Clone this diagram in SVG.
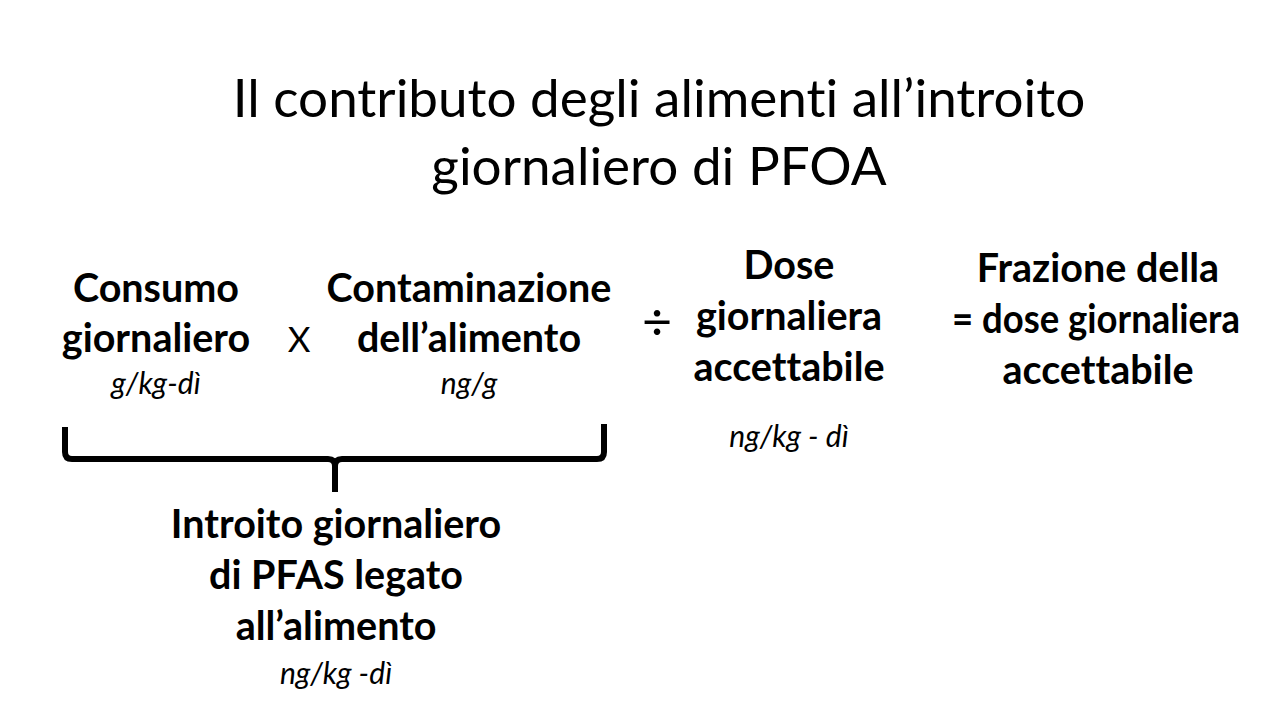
<svg xmlns="http://www.w3.org/2000/svg" width="1280" height="720" viewBox="0 0 1280 720">
<style>
text{font-family:Lato,"Open Sans","Liberation Sans",sans-serif;fill:#000;text-anchor:middle;font-variant-ligatures:none}
.t{font-size:53px;font-weight:400}
.b{font-size:39.5px;font-weight:700}
.i{font-size:30px;font-style:italic}
.op{font-size:35px}
.dv{font-size:52px}
</style>
<rect width="1280" height="720" fill="#fff"/>
<g id="title">
<text class="t" x="659" y="117">Il contributo degli alimenti all’introito</text>
<text class="t" x="659" y="185">giornaliero di PFOA</text>
</g>
<g id="consumo">
<text class="b" x="156" y="302">Consumo</text>
<text class="b" x="156" y="352">giornaliero</text>
<text class="i" x="156" y="394">g/kg-dì</text>
</g>
<g id="times"><text class="op" x="299" y="352">X</text></g>
<g id="contaminazione">
<text class="b" x="469" y="302">Contaminazione</text>
<text class="b" x="469" y="352">dell’alimento</text>
<text class="i" x="469" y="394">ng/g</text>
</g>
<g id="divide"><text class="dv" x="657" y="340">÷</text></g>
<g id="dose">
<text class="b" x="789" y="279">Dose</text>
<text class="b" x="789" y="330">giornaliera</text>
<text class="b" x="789" y="381">accettabile</text>
<text class="i" x="789" y="447">ng/kg - dì</text>
</g>
<g id="frazione">
<text class="b" x="1098" y="282">Frazione della</text>
<text class="b" x="1096" y="333" textLength="288" lengthAdjust="spacingAndGlyphs">= dose giornaliera</text>
<text class="b" x="1098" y="384">accettabile</text>
</g>
<g id="connectors">
<path d="M65,427 L65,452 Q65,459 72,459 L328,459 Q335,459 335,466 L335,492 M335,466 Q335,459 342,459 L597,459 Q604,459 604,452 L604,424" fill="none" stroke="#000" stroke-width="6"/>
</g>
<g id="introito">
<text class="b" x="336" y="538">Introito giornaliero</text>
<text class="b" x="336" y="589">di PFAS legato</text>
<text class="b" x="336" y="640">all’alimento</text>
<text class="i" x="336" y="684">ng/kg -dì</text>
</g>
</svg>
